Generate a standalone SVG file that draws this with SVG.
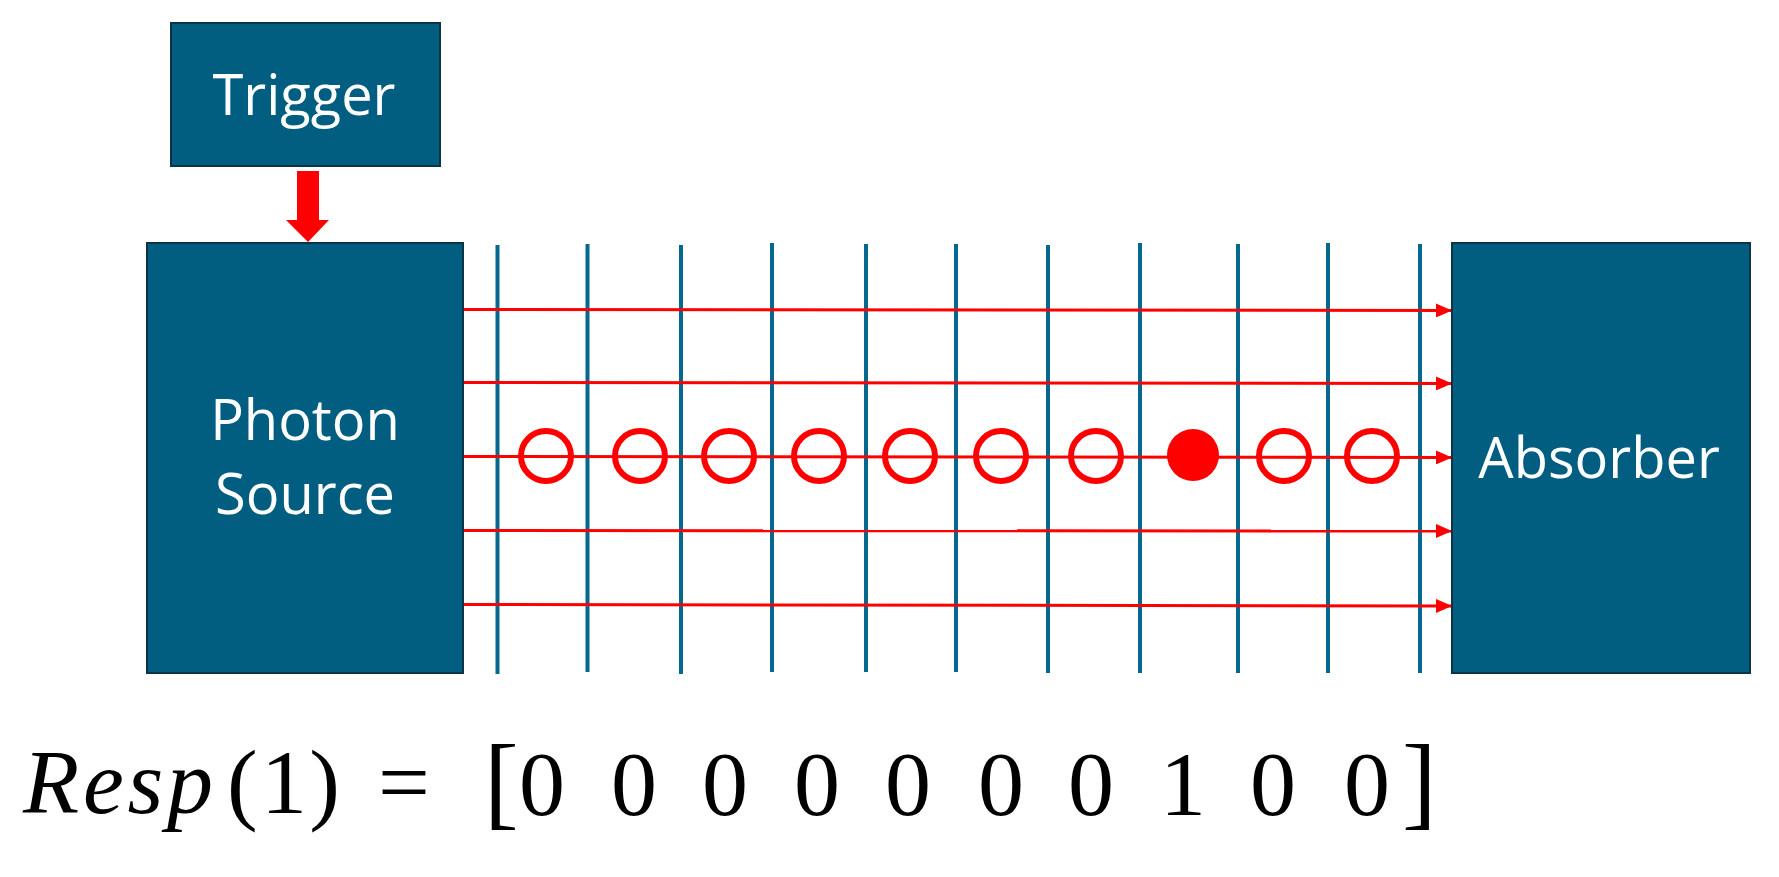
<svg xmlns="http://www.w3.org/2000/svg" width="1779" height="877" viewBox="0 0 1779 877">
<style>
.box{fill:#015E80;stroke:#0B3446;stroke-width:2}
.lbl{font-family:"Open Sans","Liberation Sans",sans-serif;font-size:56px;fill:#FFFFFF;text-anchor:middle}
.vl{stroke:#07688F;stroke-width:4}
.ray{stroke:#FF0000;stroke-width:3;fill:none}
.ring{fill:none;stroke:#FF0000;stroke-width:6}
.eq{font-family:"Liberation Serif","DejaVu Serif",serif;font-size:92px;fill:#000000}
.br{font-size:104px}
</style>
<defs>
<marker id="ah" viewBox="0 0 16 14" refX="16" refY="7" markerWidth="16" markerHeight="14" markerUnits="userSpaceOnUse" orient="auto">
<path d="M0,0 L16,7 L0,14 Z" fill="#FF0000"/>
</marker>
</defs>
<rect width="1779" height="877" fill="#FFFFFF"/>
<g id="detectors">
<line class="vl" x1="497.5" y1="245" x2="497.5" y2="674"/>
<line class="vl" x1="587.5" y1="244" x2="587.5" y2="672"/>
<line class="vl" x1="681" y1="245" x2="681" y2="674"/>
<line class="vl" x1="772" y1="243" x2="772" y2="672"/>
<line class="vl" x1="866" y1="244" x2="866" y2="672"/>
<line class="vl" x1="956" y1="244" x2="956" y2="672"/>
<line class="vl" x1="1048" y1="245" x2="1048" y2="673"/>
<line class="vl" x1="1140" y1="243" x2="1140" y2="673"/>
<line class="vl" x1="1238" y1="244" x2="1238" y2="673"/>
<line class="vl" x1="1328" y1="243" x2="1328" y2="673"/>
<line class="vl" x1="1420" y1="244" x2="1420" y2="673"/>
<line class="vl" x1="1511" y1="242" x2="1511" y2="260"/>
</g>
<g id="connectors">
<line class="ray" x1="464" y1="309.5" x2="1452" y2="310.5" marker-end="url(#ah)"/>
<line class="ray" x1="464" y1="382.5" x2="1452" y2="383.5" marker-end="url(#ah)"/>
<line class="ray" x1="464" y1="456.5" x2="1452" y2="457.5" marker-end="url(#ah)"/>
<line class="ray" x1="464" y1="530.5" x2="1452" y2="531" marker-end="url(#ah)"/>
<line class="ray" x1="464" y1="604.5" x2="1452" y2="606" marker-end="url(#ah)"/>
<polygon id="trigger-arrow" points="297,171 319,171 319,220 329,220 308,242 286,220 297,220" fill="#FF0000"/>
</g>
<g id="photons">
<circle class="ring" cx="546" cy="456" r="25"/>
<circle class="ring" cx="640" cy="456" r="25"/>
<circle class="ring" cx="729" cy="456" r="25"/>
<circle class="ring" cx="819" cy="456" r="25"/>
<circle class="ring" cx="910" cy="456" r="25"/>
<circle class="ring" cx="1001" cy="456" r="25"/>
<circle class="ring" cx="1096" cy="456" r="25"/>
<circle cx="1193" cy="455" r="26" fill="#FF0000"/>
<circle class="ring" cx="1284" cy="456" r="25"/>
<circle class="ring" cx="1372" cy="456" r="25"/>
</g>
<g id="trigger">
<rect class="box" x="171" y="23" width="269" height="143"/>
<text class="lbl" x="304" y="115">Trigger</text>
</g>
<g id="photon-source">
<rect class="box" x="147" y="243" width="316" height="430"/>
<text class="lbl" x="305" y="440">Photon</text>
<text class="lbl" x="305" y="514">Source</text>
</g>
<g id="absorber">
<rect class="box" x="1452" y="243" width="298" height="430"/>
<text class="lbl" x="1599" y="478">Absorber</text>
</g>
<g id="equation">
<text class="eq" x="23" y="813" font-style="italic" textLength="190" lengthAdjust="spacing">Resp</text>
<text class="eq" x="227" y="813" font-size="100">(</text>
<text class="eq" x="284" y="813" text-anchor="middle">1</text>
<text class="eq" x="340" y="813" font-size="100" text-anchor="end">)</text>
<text class="eq" x="404" y="813" text-anchor="middle">=</text>
<text class="eq br" x="484" y="816">[</text>
<text class="eq" x="542" y="815" text-anchor="middle">0</text>
<text class="eq" x="634" y="815" text-anchor="middle">0</text>
<text class="eq" x="725" y="815" text-anchor="middle">0</text>
<text class="eq" x="817" y="815" text-anchor="middle">0</text>
<text class="eq" x="908" y="815" text-anchor="middle">0</text>
<text class="eq" x="1001" y="815" text-anchor="middle">0</text>
<text class="eq" x="1091" y="815" text-anchor="middle">0</text>
<text class="eq" x="1183" y="815" text-anchor="middle">1</text>
<text class="eq" x="1273" y="815" text-anchor="middle">0</text>
<text class="eq" x="1367" y="815" text-anchor="middle">0</text>
<text class="eq br" x="1402" y="816">]</text>
</g>
</svg>
